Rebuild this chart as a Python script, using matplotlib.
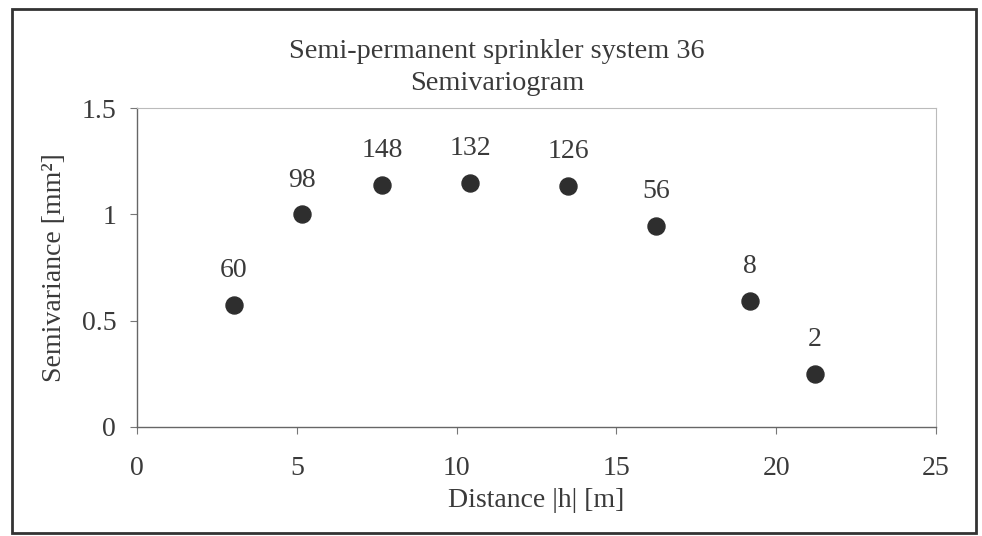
import matplotlib.pyplot as plt
from matplotlib.patches import Rectangle

plt.rcParams['font.family'] = ['Liberation Serif', 'DejaVu Serif']

# Semivariogram values
distance = [3.03, 5.16, 7.67, 10.42, 13.49, 16.24, 19.18, 21.21]
semivariance = [0.574, 1.00, 1.138, 1.147, 1.133, 0.945, 0.592, 0.249]
pair_counts = [60, 98, 148, 132, 126, 56, 8, 2]

x_ticks = [0, 5, 10, 15, 20, 25]
y_ticks = [0, 0.5, 1, 1.5]
y_tick_labels = ["0", "0.5", "1", "1.5"]

text_color = "#3a3a3a"
fs = 20

fig = plt.figure(figsize=(9.82, 5.36), dpi=100)
ax = fig.add_axes([137 / 982, 1 - 427 / 536, (936 - 137) / 982, (427 - 108) / 536])

ax.scatter(distance, semivariance, s=150, color="#2e2e2e", zorder=3)
for x, y, n in zip(distance, semivariance, pair_counts):
    ax.annotate(str(n), (x, y), xytext=(0, 20), textcoords="offset points",
                ha="center", va="baseline", fontsize=fs, color=text_color)

ax.set_xlim(0, 25)
ax.set_ylim(0, 1.5)
ax.set_xticks(x_ticks)
ax.set_yticks(y_ticks)
ax.set_yticklabels(y_tick_labels)
ax.tick_params(direction="out", length=5, width=0.8, colors="#777777",
               labelcolor=text_color, labelsize=fs)
ax.tick_params(axis="x", pad=16)
ax.tick_params(axis="y", pad=10)

for side in ["left", "bottom"]:
    ax.spines[side].set_color("#666666")
    ax.spines[side].set_linewidth(1.0)
for side in ["top", "right"]:
    ax.spines[side].set_color("#bbbbbb")
    ax.spines[side].set_linewidth(0.8)

ax.set_xlabel("Distance |h| [m]", fontsize=fs, color=text_color, va="baseline")
ax.xaxis.set_label_coords(0.5, -(507 - 427) / 319)
ax.set_ylabel("Semivariance [mm²]", fontsize=fs, color=text_color)
ax.yaxis.set_label_coords(-0.088, 0.5)

fig.text(0.506, 1 - 58 / 536, "Semi-permanent sprinkler system 36",
         ha="center", va="baseline", fontsize=20.3, color=text_color)
fig.text(0.506, 1 - 90 / 536, "Semivariogram",
         ha="center", va="baseline", fontsize=20.3, color=text_color)

# outer frame of the chart
fig.patches.append(Rectangle((12 / 982, 1 - 533 / 536), (976 - 12) / 982, (533 - 9) / 536,
                             transform=fig.transFigure, fill=False,
                             edgecolor="#333333", linewidth=2))

fig.savefig("out.png", dpi=100)
